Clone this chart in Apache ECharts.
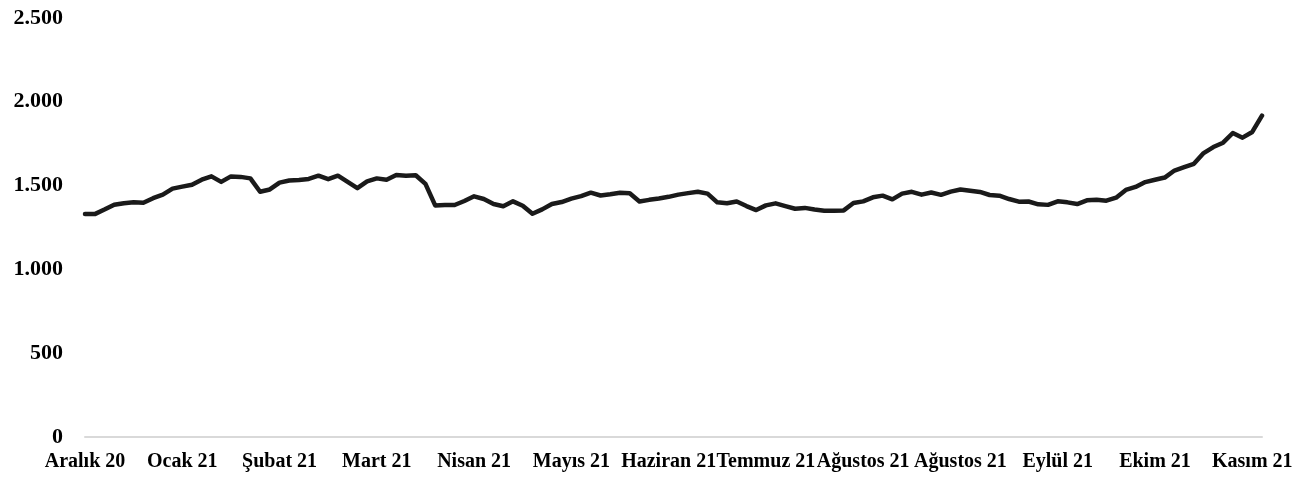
<!DOCTYPE html>
<html>
<head>
<meta charset="utf-8">
<title>Chart</title>
<script src="https://cdn.jsdelivr.net/npm/echarts@6/dist/echarts.min.js"></script>
<style>
  html, body { margin: 0; padding: 0; background: #ffffff; }
  #chart { width: 1307px; height: 477px; }
</style>
</head>
<body>
<div id="chart"></div>
<script>
// x axis labels, one every 10 points
var monthLabels = ['Aralık 20', 'Ocak 21', 'Şubat 21', 'Mart 21', 'Nisan 21', 'Mayıs 21',
  'Haziran 21', 'Temmuz 21', 'Ağustos 21', 'Ağustos 21', 'Eylül 21', 'Ekim 21', 'Kasım 21']

// values
var values = [
  1330, 1330, 1357, 1386, 1395, 1400, 1398, 1425, 1446, 1482,
  1494, 1505, 1535, 1555, 1522, 1555, 1552, 1543, 1463, 1477,
  1518, 1530, 1534, 1540, 1559, 1538, 1559, 1522, 1485, 1525,
  1543, 1535, 1563, 1559, 1562, 1510, 1382, 1384, 1384, 1408,
  1436, 1420, 1390, 1377, 1406, 1380, 1332, 1358, 1390, 1402,
  1422, 1437, 1458, 1441, 1448, 1457, 1454, 1405, 1415, 1423,
  1433, 1446, 1455, 1463, 1452, 1400, 1395, 1405, 1378, 1354,
  1382, 1394, 1378, 1362, 1367, 1357, 1350, 1350, 1352, 1396,
  1406, 1430, 1440, 1418, 1452, 1463, 1446, 1459, 1445, 1464,
  1477, 1469, 1462, 1444, 1440, 1420, 1404, 1405, 1388, 1385,
  1406, 1400, 1390, 1412, 1416, 1410, 1428, 1474, 1492, 1521,
  1535, 1548, 1590, 1610, 1630, 1694, 1730, 1756, 1814, 1786,
  1820, 1917
]

var categories = values.map(function (v, i) { return String(i) })

var yTicks = [0, 500, 1000, 1500, 2000, 2500]

var chart = echarts.init(document.getElementById('chart'))
chart.setOption({
  backgroundColor: '#ffffff',
  animation: false,
  grid: {
    left: 85,
    right: 45,
    top: 18,
    bottom: 40,
    containLabel: false,
    outerBoundsMode: 'none'
  },
  xAxis: {
    type: 'category',
    boundaryGap: false,
    data: categories,
    axisLine: { lineStyle: { color: '#d9d9d9', width: 2 } },
    axisTick: { show: false },
    axisLabel: {
      interval: 9,
      margin: 15,
      color: '#000000',
      fontFamily: 'Liberation Serif',
      fontWeight: 'bold',
      fontSize: 20,
      formatter: function (value, index) {
        return monthLabels[Math.round(index / 10)] || ''
      }
    },
    splitLine: { show: false }
  },
  yAxis: {
    type: 'value',
    min: yTicks[0],
    max: yTicks[yTicks.length - 1],
    interval: 500,
    axisLine: { show: false },
    axisTick: { show: false },
    splitLine: { show: false },
    axisLabel: {
      margin: 22,
      color: '#000000',
      fontFamily: 'Liberation Serif',
      fontWeight: 'bold',
      fontSize: 22,
      formatter: function (v) {
        // Turkish thousands separator
        return String(v).replace(/\B(?=(\d{3})+(?!\d))/g, '.')
      }
    }
  },
  series: [{
    type: 'line',
    data: values,
    showSymbol: false,
    symbol: 'none',
    lineStyle: { color: '#1a1a1a', width: 4.5, join: 'round', cap: 'round' }
  }]
})
</script>
</body>
</html>
